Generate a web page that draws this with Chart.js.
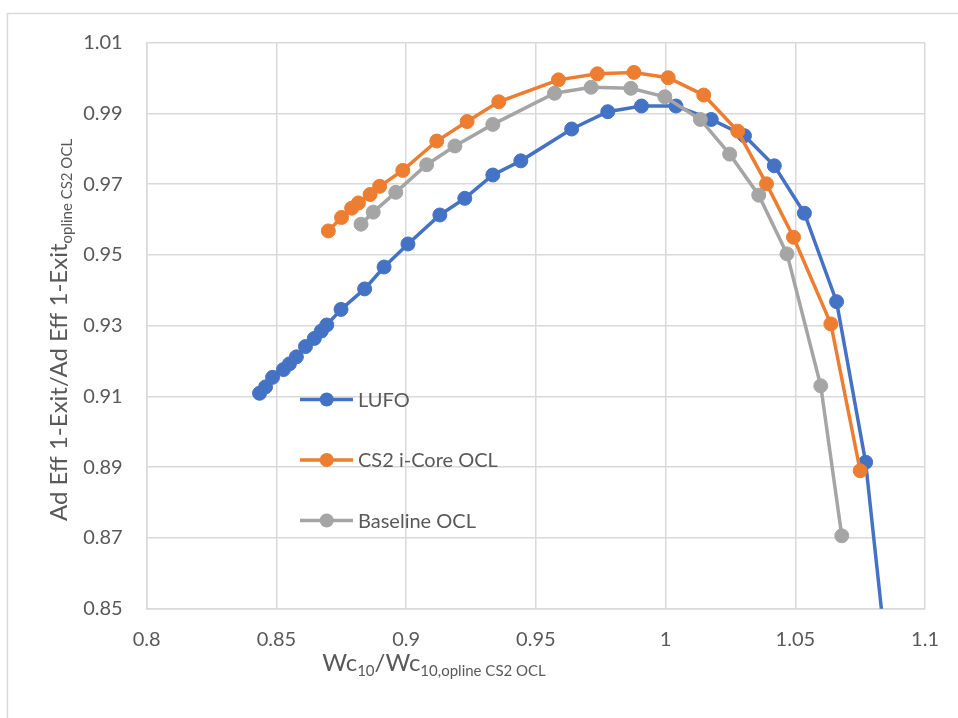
<!DOCTYPE html>
<html>
<head>
<meta charset="utf-8">
<script src="https://cdn.jsdelivr.net/npm/chart.js@4/dist/chart.umd.min.js"></script>
<style>
  html, body { margin: 0; padding: 0; background: #ffffff; }
  #wrap { position: relative; width: 958px; height: 718px; }
</style>
</head>
<body>
<div id="wrap"><canvas id="chart"></canvas></div>
<script>
// Series: corrected flow ratio (x) vs. adiabatic efficiency ratio (y)
const seriesNames = ["LUFO", "CS2 i-Core OCL", "Baseline OCL"];
const seriesColors = ["#4472C4", "#ED7D31", "#A5A5A5"];

const lufoX = [0.8435, 0.8458, 0.8485, 0.8527, 0.8550, 0.8577, 0.8612, 0.8646, 0.8673, 0.8694,
               0.8749, 0.8840, 0.8915, 0.9007, 0.9130, 0.9226, 0.9334, 0.9442, 0.9638, 0.9777,
               0.9907, 1.0040, 1.0176, 1.0304, 1.0419, 1.0535, 1.0659, 1.0771, 1.0861];
const lufoY = [0.9109, 0.9127, 0.9154, 0.9176, 0.9192, 0.9212, 0.9241, 0.9264, 0.9285, 0.9302,
               0.9346, 0.9404, 0.9466, 0.9531, 0.9613, 0.9660, 0.9726, 0.9766, 0.9856, 0.9905,
               0.9921, 0.9921, 0.9883, 0.9837, 0.9752, 0.9618, 0.9368, 0.8914, 0.8300];

const cs2X = [0.8700, 0.8751, 0.8790, 0.8816, 0.8861, 0.8898, 0.8987, 0.9118, 0.9235, 0.9357,
              0.9587, 0.9737, 0.9878, 1.0010, 1.0147, 1.0278, 1.0389, 1.0493, 1.0637, 1.0750];
const cs2Y = [0.9568, 0.9606, 0.9632, 0.9647, 0.9671, 0.9694, 0.9739, 0.9822, 0.9877, 0.9933,
              0.9995, 1.0012, 1.0016, 1.0001, 0.9952, 0.9850, 0.9701, 0.9550, 0.9305, 0.8890];

const baseX = [0.8826, 0.8873, 0.8960, 0.9079, 0.9188, 0.9334, 0.9572, 0.9713, 0.9866, 0.9997,
               1.0134, 1.0247, 1.0359, 1.0468, 1.0598, 1.0679];
const baseY = [0.9587, 0.9621, 0.9677, 0.9755, 0.9808, 0.9869, 0.9957, 0.9974, 0.9971, 0.9947,
               0.9883, 0.9785, 0.9669, 0.9503, 0.9130, 0.8706];

// Axis ticks
const xTickValues = [0.8, 0.85, 0.9, 0.95, 1.0, 1.05, 1.1];
const xTickLabels = ["0.8", "0.85", "0.9", "0.95", "1", "1.05", "1.1"];
const yTickValues = [0.85, 0.87, 0.89, 0.91, 0.93, 0.95, 0.97, 0.99, 1.01];
const yTickLabels = ["0.85", "0.87", "0.89", "0.91", "0.93", "0.95", "0.97", "0.99", "1.01"];

// Axis titles with subscript parts: [text, isSubscript]
const xTitleParts = [["Wc", false], ["10", true], ["/Wc", false], ["10,opline CS2 OCL", true]];
const yTitleParts = [["Ad Eff 1-Exit/Ad Eff 1-Exit", false], ["opline CS2 OCL", true]];

const FONT = "Lato, 'Open Sans', sans-serif";
const TEXT_COLOR = "#595959";
const GRID_COLOR = "#D9D9D9";

function pairs(xs, ys) { return xs.map((x, i) => ({ x: x, y: ys[i] })); }

function makeSet(i, xs, ys, order) {
  return {
    label: seriesNames[i],
    data: pairs(xs, ys),
    showLine: true,
    borderColor: seriesColors[i],
    backgroundColor: seriesColors[i],
    pointBackgroundColor: seriesColors[i],
    pointBorderColor: seriesColors[i],
    borderWidth: 3.5,
    pointRadius: 7,
    pointBorderWidth: 1,
    tension: 0,
    order: order
  };
}

// Draws the frame, the in-plot legend and the subscripted axis titles
const decorPlugin = {
  id: "decor",
  beforeDraw(chart) {
    const ctx = chart.ctx;
    ctx.save();
    ctx.strokeStyle = GRID_COLOR;
    ctx.lineWidth = 1.5;
    ctx.beginPath();
    ctx.moveTo(7.5, 718);
    ctx.lineTo(7.5, 13.5);
    ctx.lineTo(958, 13.5);
    ctx.stroke();
    ctx.restore();
  },
  afterDraw(chart) {
    const ctx = chart.ctx;
    ctx.save();

    // Legend
    const legendRows = [399.5, 460, 520.5];
    const lx0 = 300, lx1 = 353, mx = 326.7;
    chart.data.datasets.forEach((ds, i) => {
      const y = legendRows[i];
      ctx.strokeStyle = ds.borderColor;
      ctx.lineWidth = 3.5;
      ctx.beginPath();
      ctx.moveTo(lx0, y);
      ctx.lineTo(lx1, y);
      ctx.stroke();
      ctx.fillStyle = ds.borderColor;
      ctx.beginPath();
      ctx.arc(mx, y, 7, 0, Math.PI * 2);
      ctx.fill();
      ctx.fillStyle = TEXT_COLOR;
      ctx.font = "20px " + FONT;
      ctx.textAlign = "left";
      ctx.textBaseline = "middle";
      ctx.fillText(ds.label, 358, y + 1);
    });

    // Title helper: draws main + subscript runs along the baseline
    function runWidth(parts, mainSize, subSize) {
      let w = 0;
      parts.forEach(p => {
        ctx.font = (p[1] ? subSize : mainSize) + "px " + FONT;
        w += ctx.measureText(p[0]).width;
      });
      return w;
    }
    function drawRuns(parts, x0, baseY, mainSize, subSize, subShift) {
      let x = x0;
      ctx.textAlign = "left";
      ctx.textBaseline = "alphabetic";
      parts.forEach(p => {
        ctx.font = (p[1] ? subSize : mainSize) + "px " + FONT;
        ctx.fillText(p[0], x, baseY + (p[1] ? subShift : 0));
        x += ctx.measureText(p[0]).width;
      });
    }
    ctx.fillStyle = TEXT_COLOR;

    // X title
    const xw = runWidth(xTitleParts, 24, 15);
    drawRuns(xTitleParts, 434 - xw / 2, 671, 24, 15, 5);

    // Y title (rotated)
    ctx.save();
    ctx.translate(67, 330);
    ctx.rotate(-Math.PI / 2);
    const yw = runWidth(yTitleParts, 24, 15);
    drawRuns(yTitleParts, -yw / 2, 0, 24, 15, 5);
    ctx.restore();

    ctx.restore();
  }
};

new Chart(document.getElementById("chart"), {
  type: "scatter",
  data: {
    datasets: [
      makeSet(0, lufoX, lufoY, 3),
      makeSet(1, cs2X, cs2Y, 2),
      makeSet(2, baseX, baseY, 1)
    ]
  },
  options: {
    responsive: true,
    maintainAspectRatio: false,
    animation: false,
    layout: { padding: { top: 42.7, right: 30.7, left: 0, bottom: 0 } },
    plugins: {
      legend: { display: false },
      tooltip: { enabled: false }
    },
    scales: {
      x: {
        type: "linear",
        min: 0.8,
        max: 1.1,
        afterBuildTicks(scale) { scale.ticks = xTickValues.map(v => ({ value: v })); },
        afterFit(scale) { scale.height = 109.3; },
        grid: { color: GRID_COLOR, lineWidth: 1.5, drawTicks: false },
        border: { color: GRID_COLOR, width: 1.5 },
        ticks: {
          padding: 19,
          color: TEXT_COLOR,
          font: { family: FONT, size: 20 },
          maxRotation: 0,
          callback(value, index) { return xTickLabels[index]; }
        }
      },
      y: {
        type: "linear",
        min: 0.85,
        max: 1.01,
        afterBuildTicks(scale) { scale.ticks = yTickValues.map(v => ({ value: v })); },
        afterFit(scale) { scale.width = 146.7; },
        grid: { color: GRID_COLOR, lineWidth: 1.5, drawTicks: false },
        border: { color: GRID_COLOR, width: 1.5 },
        ticks: {
          padding: 24,
          color: TEXT_COLOR,
          font: { family: FONT, size: 20 },
          callback(value, index) { return yTickLabels[index]; }
        }
      }
    }
  },
  plugins: [decorPlugin]
});
</script>
</body>
</html>
